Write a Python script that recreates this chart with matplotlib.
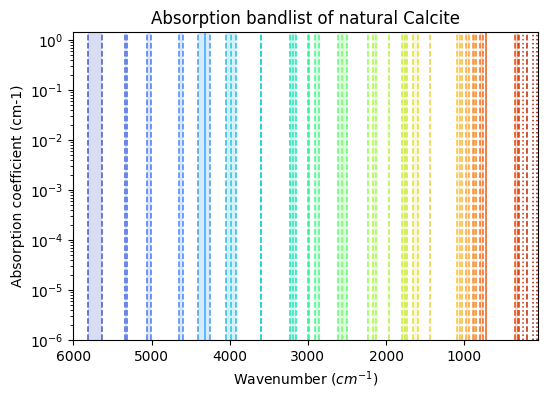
import matplotlib
matplotlib.use("Agg")
import matplotlib.pyplot as plt
import numpy as np

# band limits in cm-1 (lo == hi means a single line)
band_hi = [5812, 5343, 5054, 4648, 4402, 4316, 4051, 3983, 3605, 3229, 3187,
           2998, 2909, 2611, 2560, 2228, 2164, 1963, 1800, 1758, 1652, 1439,
           1097, 1026, 982, 893, 851, 800, 723, 352, 297, 246, 202, 118, 75]
band_lo = [5633, 5313, 5003, 4597, 4252, 4316, 3919, 3983, 3595, 3156, 3187,
           2992, 2858, 2504, 2560, 2228, 2133, 1963, 1729, 1758, 1596, 1439,
           1055, 1026, 940, 877, 851, 765, 723, 310, 297, 246, 202, 118, 75]
band_ls = ['--', '--', '--', '--', '--', '-', '--', '--', '--', '--', '--',
           '--', '--', '--', '--', '--', '--', '--', '--', '--', '--', '--',
           '--', '--', '--', '--', '--', '--', '-', '--', '--', ':', '--', ':', ':']

fig = plt.figure(figsize=(5.47, 3.99), dpi=100)
ax = fig.add_axes([0.134, 0.148, 0.850, 0.772])

colors = plt.cm.turbo(np.linspace(0.1, 0.95, len(band_hi)))

for hi, lo, ls, c in zip(band_hi, band_lo, band_ls, colors):
    if hi != lo:
        ax.axvspan(lo, hi, color=c, alpha=0.2, lw=0)
        ax.axvline(hi, color=c, ls=ls, lw=1.1)
        ax.axvline(lo, color=c, ls=ls, lw=1.1)
    else:
        ax.axvline(hi, color=c, ls=ls, lw=1.1)

ax.set_yscale('log')
ax.set_ylim(1e-6, 1.45)
ax.set_xlim(6000, 55)
ax.set_title('Absorption bandlist of natural Calcite')
ax.set_xlabel('Wavenumber ($cm^{-1}$)')
ax.set_ylabel('Absorption coefficient (cm-1)')

fig.savefig('out.png', dpi=100)
